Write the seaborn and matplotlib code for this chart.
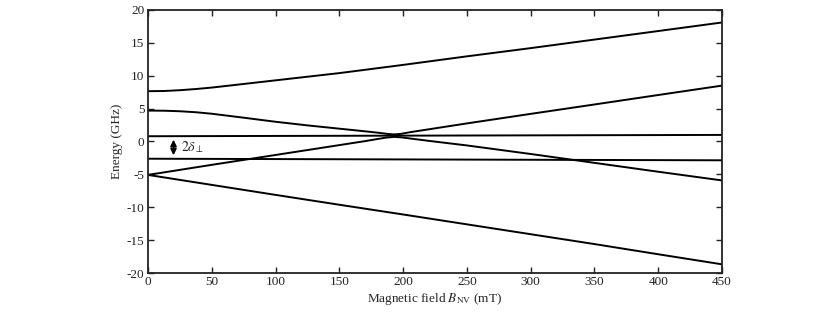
import matplotlib
matplotlib.use("Agg")
import matplotlib.pyplot as plt
import numpy as np
import pandas as pd
import seaborn as sns

# energy levels (GHz), vs magnetic field (mT)
b_a = [0, 12.5, 25, 37.5, 50, 75, 100, 125, 150, 200, 250, 300, 350, 400, 450]
level_a = [7.65, 7.68, 7.8, 7.98, 8.2, 8.75, 9.3, 9.85, 10.4, 11.65, 12.95,
           14.2, 15.5, 16.8, 18.1]

b_b = [0, 12.5, 25, 37.5, 50, 75, 100, 125, 150, 170, 182, 188, 193, 198,
       205, 220, 250, 300, 350, 400, 450]
level_b = [4.7, 4.68, 4.6, 4.45, 4.22, 3.62, 3.0, 2.45, 1.95, 1.55, 1.3,
           1.15, 1.08, 1.15, 1.4, 1.85, 2.75, 4.2, 5.63, 7.07, 8.5]

b_c = [0, 450]
level_c = [0.8, 1.0]

b_d = [0, 450]
level_d = [-2.62, -2.86]

b_e = [0, 50, 100, 150, 170, 180, 187, 193, 199, 207, 220, 250, 300, 350,
       400, 450]
level_e = [-5.08, -3.55, -2.05, -0.55, 0.05, 0.38, 0.6, 0.7, 0.62, 0.42,
           0.1, -0.6, -1.9, -3.25, -4.6, -5.92]

b_f = [0, 50, 100, 150, 200, 250, 300, 350, 400, 450]
level_f = [-5.08, -6.6, -8.12, -9.62, -11.1, -12.6, -14.1, -15.6, -17.15,
           -18.68]

curves = [(b_a, level_a), (b_b, level_b), (b_c, level_c),
          (b_d, level_d), (b_e, level_e), (b_f, level_f)]

sns.set_theme(style="ticks")
plt.rcParams["font.family"] = ["Liberation Serif", "DejaVu Serif"]
plt.rcParams["mathtext.fontset"] = "stix"
plt.rcParams["axes.unicode_minus"] = False
plt.rcParams["axes.edgecolor"] = "#222222"

fig = plt.figure(figsize=(8.3, 3.17), dpi=100)
ax = fig.add_axes([0.1783, 0.1388, 0.6916, 0.8297])

for b, e in curves:
    df = pd.DataFrame({"B": b, "E": e})
    sns.lineplot(data=df, x="B", y="E", color="black", linewidth=1.4,
                 ax=ax, legend=False)

# splitting marker between the two flat levels
ax.annotate("", xy=(20, level_c[0]), xytext=(20, level_d[0]),
            arrowprops=dict(arrowstyle="<|-|>", color="black", lw=1.2,
                            mutation_scale=9, shrinkA=2.5, shrinkB=2.5))
ax.text(26, (level_c[0] + level_d[0]) / 2, r"$2\delta_\perp$",
        fontsize=10, va="center", ha="left")

ax.set_xlim(0, 450)
ax.set_ylim(-20, 20)
ax.set_xticks(np.arange(0, 451, 50))
ax.set_yticks(np.arange(-20, 21, 5))
ax.tick_params(direction="in", length=4, width=1.0, top=True, right=True,
               labelsize=9.5, colors="#222222", pad=2.5)
for s in ax.spines.values():
    s.set_linewidth(1.3)

ax.set_xlabel(r"Magnetic field $B_{\rm NV}$ (mT)", fontsize=9.5, labelpad=2)
ax.set_ylabel("Energy (GHz)", fontsize=9.5, labelpad=2.5)

fig.savefig("out.png", dpi=100)
plt.close(fig)
